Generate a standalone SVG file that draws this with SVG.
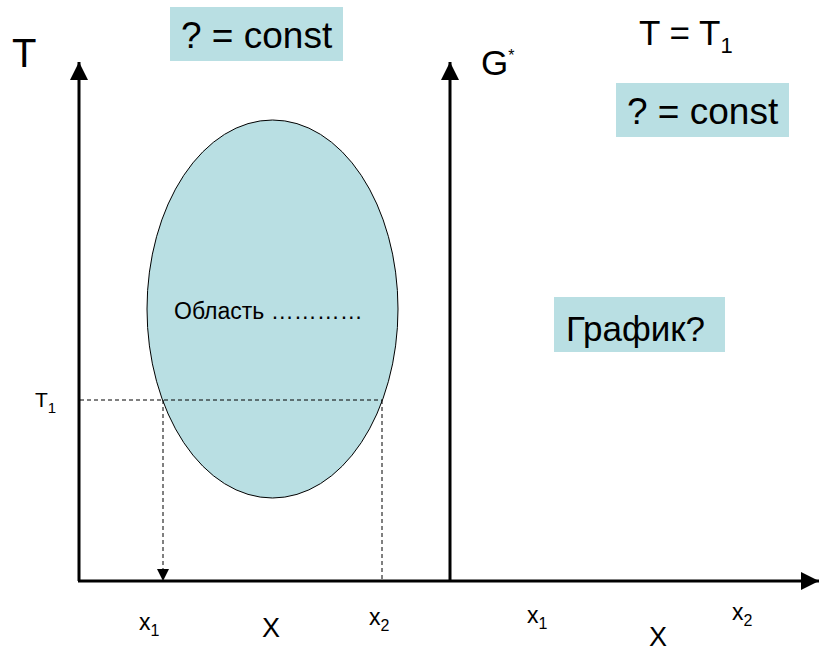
<svg xmlns="http://www.w3.org/2000/svg" width="819" height="649" viewBox="0 0 819 649">
<style>
text{font-family:"Liberation Sans",Arial,sans-serif;fill:#000}
.box{fill:#b9dfe3}
.axis{stroke:#000;stroke-width:3;fill:none}
.dash{stroke:#000;stroke-width:1;stroke-dasharray:4 3;fill:none}
</style>
<defs>
<marker id="ah" markerWidth="6" markerHeight="6" refX="6" refY="3" orient="auto" markerUnits="strokeWidth">
<path d="M0,0 L6,3 L0,6 Z" fill="#000"/>
</marker>
<marker id="ahs" markerWidth="12" markerHeight="12" refX="12" refY="6" orient="auto" markerUnits="userSpaceOnUse">
<path d="M0,0 L12,6 L0,12 Z" fill="#000"/>
</marker>
</defs>
<rect width="819" height="649" fill="#fff"/>
<g id="region">
<ellipse cx="272.5" cy="309" rx="125.5" ry="189" fill="#b9dfe3" stroke="#000" stroke-width="1"/>
<text x="174" y="319" font-size="23">Область …………</text>
</g>
<g id="connectors">
<line class="axis" x1="79" y1="581" x2="79" y2="62" marker-end="url(#ah)"/>
<line class="axis" x1="450" y1="581" x2="450" y2="62" marker-end="url(#ah)"/>
<line class="axis" x1="78" y1="581" x2="819" y2="581" marker-end="url(#ah)"/>
<line class="dash" x1="80" y1="400" x2="382" y2="400"/>
<line class="dash" x1="163" y1="400" x2="163" y2="581" marker-end="url(#ahs)"/>
<line class="dash" x1="382" y1="400" x2="382" y2="580"/>
</g>
<g id="box1">
<rect class="box" x="170" y="7" width="173" height="54"/>
<text x="181" y="48" font-size="37">? = const</text>
</g>
<g id="box2">
<rect class="box" x="616" y="83" width="173" height="54"/>
<text x="627" y="124" font-size="37">? = const</text>
</g>
<g id="box3">
<rect class="box" x="554" y="297" width="171" height="55"/>
<text x="566" y="341" font-size="35">График?</text>
</g>
<g id="labels">
<text x="12" y="67" font-size="40">T</text>
<text x="639" y="45" font-size="35">T = T<tspan font-size="22" dy="8">1</tspan></text>
<text x="481" y="75" font-size="35">G<tspan font-size="16" dy="-14">*</tspan></text>
<text x="35" y="407" font-size="21">T<tspan font-size="15" dy="6">1</tspan></text>
<text x="139" y="630" font-size="23">x<tspan font-size="16" dy="6">1</tspan></text>
<text x="369" y="625" font-size="23">x<tspan font-size="16" dy="6">2</tspan></text>
<text x="262" y="637" font-size="27">X</text>
<text x="527" y="623" font-size="23">x<tspan font-size="16" dy="6">1</tspan></text>
<text x="732" y="620" font-size="23">x<tspan font-size="16" dy="6">2</tspan></text>
<text x="649" y="646" font-size="27">X</text>
</g>
</svg>
